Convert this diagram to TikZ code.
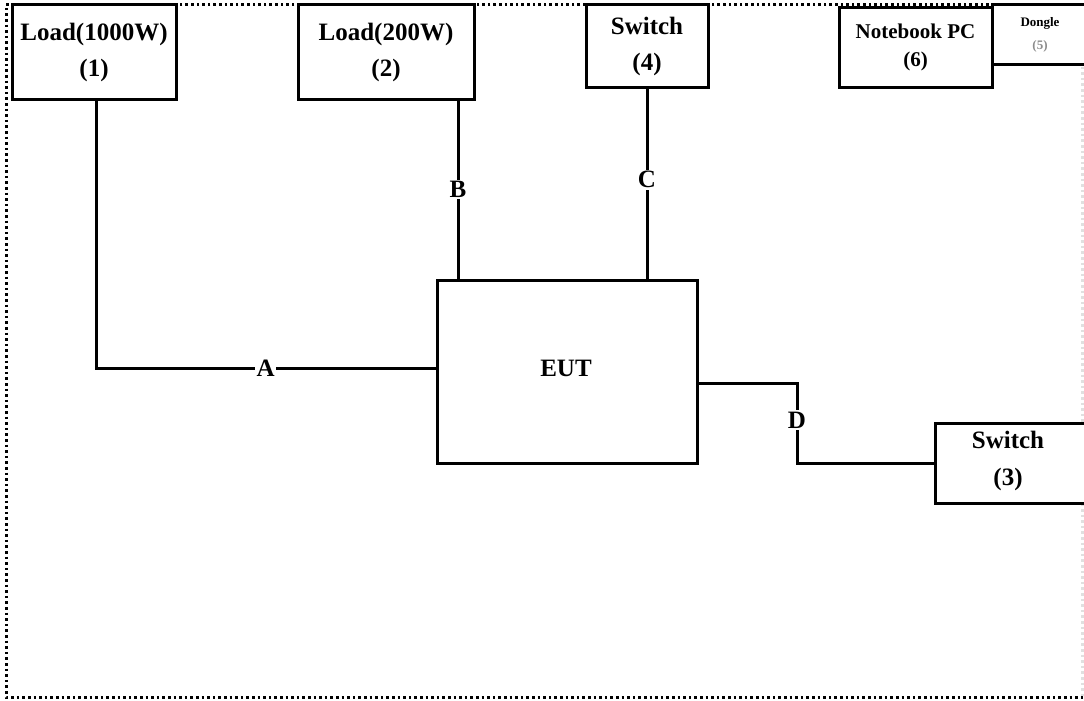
\documentclass[tikz,border=0pt]{standalone}
\usepackage{fontspec}
\setmainfont{Liberation Serif}
\begin{document}
\begin{tikzpicture}[x=1pt,y=-1pt,
  box/.style={draw, line width=3pt, fill=white, inner sep=0pt, align=center,
    font=\bfseries\fontsize{25}{36}\selectfont},
  wire/.style={line width=3pt},
  tag/.style={fill=white, inner sep=1.5pt, font=\bfseries\fontsize{25}{30}\selectfont},
  frame/.style={line width=3pt, dash pattern=on 2.6pt off 3pt}]
\useasboundingbox (0,0) rectangle (1084,701);
\clip (0,0) rectangle (1084,701);
\fill[white] (0,0) rectangle (1084,701);
% dotted frame
\draw[frame] (1084,5) -- (6,5) -- (6,697) -- (1084,697);
\draw[frame, black!12] (1082,5) -- (1082,697);
% boxes
\node[box, minimum width=164pt, minimum height=94pt] (l1) at (94,52) {Load(1000W)\\(1)};
\node[box, minimum width=176pt, minimum height=94pt] (l2) at (386,52) {Load(200W)\\(2)};
\node[box, minimum width=122pt, minimum height=82pt] (sw4) at (647,46) {Switch\\(4)};
\node[box, minimum width=153pt, minimum height=79pt, font=\bfseries\fontsize{21}{28}\selectfont] (nb) at (915.5,47.5) {Notebook PC\\(6)};
\node[box, minimum width=110pt, minimum height=60pt] (dg) at (1047,35) {};
\node[align=center, inner sep=0pt, font=\bfseries\fontsize{13}{23}\selectfont] (dgt) at (1040,35) {Dongle\\{\color{black!45}(5)}};
\node[box, minimum width=260pt, minimum height=183pt] (eut) at (567,371.5) {};
\node[inner sep=0pt, font=\bfseries\fontsize{25}{30}\selectfont] (eutt) at (566,368) {EUT};
\node[box, minimum width=160pt, minimum height=80pt] (s3) at (1015,463) {};
\node[align=center, inner sep=0pt, font=\bfseries\fontsize{25}{37}\selectfont] (s3t) at (1008,461) {Switch\\(3)};
% wires
\coordinate (dk) at (797,420);
\draw[wire] ([xshift=2pt]l1.south) |- ([yshift=3.5pt]eut.west)
  node[tag, pos=0.75] (la) {A};
\draw[wire] ([xshift=72pt]l2.south) -- ([xshift=72pt]l2.south |- eut.north)
  node[tag, midway] (lb) {B};
\draw[wire] (sw4.south) -- (sw4.south |- eut.north)
  node[tag, pos=0.48] (lc) {C};
\draw[wire] ([yshift=-11.5pt]eut.east) -| (dk) |- (s3.west);
\node[tag] (ld) at (dk) {D};
\end{tikzpicture}
\end{document}
